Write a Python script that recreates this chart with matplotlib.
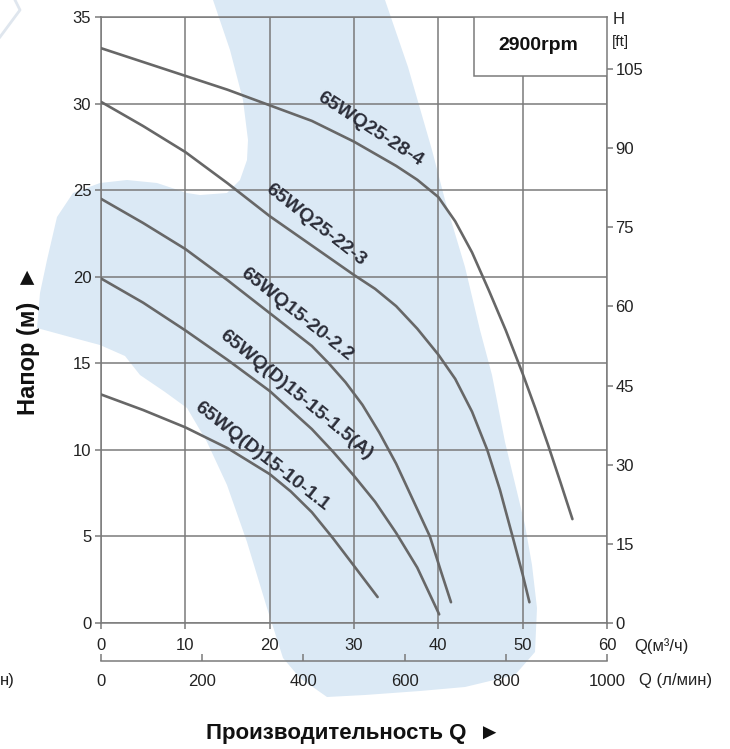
import numpy as np
import matplotlib
matplotlib.use("Agg")
import matplotlib.pyplot as plt
from matplotlib.patches import Polygon, Rectangle

plt.rcParams['font.family'] = ['Liberation Sans', 'DejaVu Sans']

# === DATA (Q in m3/h, H in m) ===
curve_names = ['65WQ25-28-4', '65WQ25-22-3', '65WQ15-20-2.2',
               '65WQ(D)15-15-1.5(A)', '65WQ(D)15-10-1.1']

q_25_28 = [0, 5, 10, 15, 20, 25, 30, 35, 37.5, 40, 42, 44, 46, 48, 50, 51.5, 53, 54.5, 55.9]
h_25_28 = [33.2, 32.4, 31.6, 30.8, 29.9, 29.0, 27.8, 26.4, 25.6, 24.6, 23.2, 21.4, 19.2, 16.9, 14.4, 12.4, 10.3, 8.1, 6.0]

q_25_22 = [0, 5, 10, 15, 20, 25, 30, 32.5, 35, 37.5, 40, 42, 44, 45.8, 47.3, 48.8, 50.0, 50.8]
h_25_22 = [30.1, 28.7, 27.2, 25.4, 23.5, 21.8, 20.1, 19.3, 18.3, 17.0, 15.5, 14.1, 12.2, 10.0, 7.7, 5.0, 2.8, 1.2]

q_15_20 = [0, 5, 10, 15, 20, 25, 27, 29, 31, 33, 35, 37, 39, 40.3, 41.5]
h_15_20 = [24.5, 23.1, 21.6, 19.8, 17.9, 16.0, 15.0, 13.9, 12.6, 11.0, 9.2, 7.1, 5.0, 3.0, 1.2]

q_15_15 = [0, 5, 10, 15, 20, 25, 27.5, 30, 32.5, 35, 37.5, 40.1]
h_15_15 = [19.9, 18.5, 16.9, 15.2, 13.4, 11.2, 9.9, 8.5, 7.0, 5.2, 3.2, 0.5]

q_15_10 = [0, 5, 10, 15, 20, 22.5, 25, 27.5, 30, 32.8]
h_15_10 = [13.2, 12.3, 11.3, 10.1, 8.6, 7.6, 6.4, 4.9, 3.3, 1.5]

curves_q = [q_25_28, q_25_22, q_15_20, q_15_15, q_15_10]
curves_h = [h_25_28, h_25_22, h_15_20, h_15_15, h_15_10]

# label anchor (Q, H) and rotation on screen
label_q = [31.9, 25.4, 23.2, 23.1, 19.1]
label_h = [28.5, 23.0, 17.8, 13.2, 9.6]
label_rot = [-33, -38, -38.5, -39.5, -38]

q_ticks = [0, 10, 20, 30, 40, 50, 60]
h_ticks = [0, 5, 10, 15, 20, 25, 30, 35]
lmin_ticks = [0, 200, 400, 600, 800, 1000]
ft_ticks = [0, 15, 30, 45, 60, 75, 90, 105]

W, H = 730, 749
fig = plt.figure(figsize=(W / 100, H / 100), dpi=100)

def px(x, y):
    return (x / W, 1 - y / H)

# light blue background blob (decorative, pixel outline)
blob = [(213, 0), (230, 50), (243, 100), (248, 140), (247, 160), (240, 180), (227, 193),
        (200, 195), (187, 193), (157, 183), (127, 180), (100, 183), (73, 193), (57, 217),
        (47, 260), (40, 293), (37, 328), (70, 337), (100, 345), (125, 356), (140, 375),
        (165, 392), (187, 408), (207, 442), (227, 485), (247, 542), (267, 608), (283, 658),
        (300, 678), (327, 697), (365, 695), (420, 691), (465, 687), (515, 675), (535, 652),
        (537, 608), (532, 565), (525, 525), (505, 442), (492, 375), (480, 330), (465, 267),
        (445, 200), (432, 150), (408, 67), (385, 0)]
fig.add_artist(Polygon([px(*p) for p in blob], closed=True, transform=fig.transFigure,
                       facecolor='#dbe9f5', edgecolor='none', zorder=-5))
fig.add_artist(plt.Line2D([px(15, 0)[0], px(20, 10)[0], px(0, 37)[0]],
                          [px(15, 0)[1], px(20, 10)[1], px(0, 37)[1]],
                          transform=fig.transFigure, color='#dfe6ee', lw=2, zorder=-5))

ax = fig.add_axes([101 / W, 1 - 623 / H, (607 - 101) / W, (623 - 17) / H])
ax.patch.set_alpha(0)
ax.set_xlim(0, 60)
ax.set_ylim(0, 35)
ax.set_xticks(q_ticks)
ax.set_yticks(h_ticks)
grid_c = '#7a7a7a'
ax.grid(True, color=grid_c, lw=1.1)
for s in ax.spines.values():
    s.set_color(grid_c)
    s.set_linewidth(1.1)
ax.tick_params(axis='both', colors=grid_c, labelcolor='#222222', labelsize=12,
               length=4, width=1.1, direction='out', pad=3)
ax.tick_params(axis='x', pad=7)

for q, h in zip(curves_q, curves_h):
    ax.plot(q, h, color='#676767', lw=1.9, solid_capstyle='round',
            solid_joinstyle='round', zorder=3)

for name, lq, lh, r in zip(curve_names, label_q, label_h, label_rot):
    ax.text(lq, lh, name, rotation=r, rotation_mode='anchor', ha='center', va='center',
            fontsize=14, fontweight='bold', color='#2b2d38', zorder=4)

# rpm box
ax.add_patch(Rectangle((0.737, 0.9026), 0.263, 0.0974, transform=ax.transAxes,
                       facecolor='white', edgecolor=grid_c, lw=1.1, zorder=5))
ax.text(0.865, 0.953, '2900rpm', transform=ax.transAxes, ha='center', va='center',
        fontsize=14, fontweight='bold', color='#111111', zorder=6)

# right axis in ft
axr = ax.twinx()
axr.set_ylim(0, 35 * 3.2808)
axr.set_yticks(ft_ticks)
axr.tick_params(axis='y', colors=grid_c, labelcolor='#222222', labelsize=12,
                length=4, width=1.1, pad=2)
for s in axr.spines.values():
    s.set_visible(False)

# secondary bottom axis in l/min
axb = ax.twiny()
axb.set_xlim(0, 1000)
axb.set_xticks(lmin_ticks)
axb.xaxis.set_ticks_position('bottom')
axb.xaxis.set_label_position('bottom')
for k in ['top', 'left', 'right']:
    axb.spines[k].set_visible(False)
axb.spines['bottom'].set_position(('outward', 27.5))
axb.spines['bottom'].set_color(grid_c)
axb.spines['bottom'].set_linewidth(1.1)
axb.tick_params(axis='x', direction='in', colors=grid_c, labelcolor='#222222',
                labelsize=12, length=5, width=1.1, pad=9)

# unit texts
fig.text(*px(613, 20), 'H', fontsize=12, color='#222222', va='center', ha='left')
fig.text(*px(612, 42), '[ft]', fontsize=11, color='#222222', va='center', ha='left')
fig.text(*px(634, 646), 'Q(м³/ч)', fontsize=12, color='#222222', va='center', ha='left')
fig.text(*px(639, 681), 'Q (л/мин)', fontsize=12, color='#222222', va='center', ha='left')
fig.text(*px(0, 681), 'н)', fontsize=12, color='#222222', va='center', ha='left')

fig.text(*px(29, 340), 'Напор (м)  ►', rotation=90, fontsize=17, fontweight='bold',
         color='#111111', ha='center', va='center')
fig.text(*px(353, 734), 'Производительность Q  ►', fontsize=16, fontweight='bold',
         color='#111111', ha='center', va='center')

fig.savefig('out.png', dpi=100)
